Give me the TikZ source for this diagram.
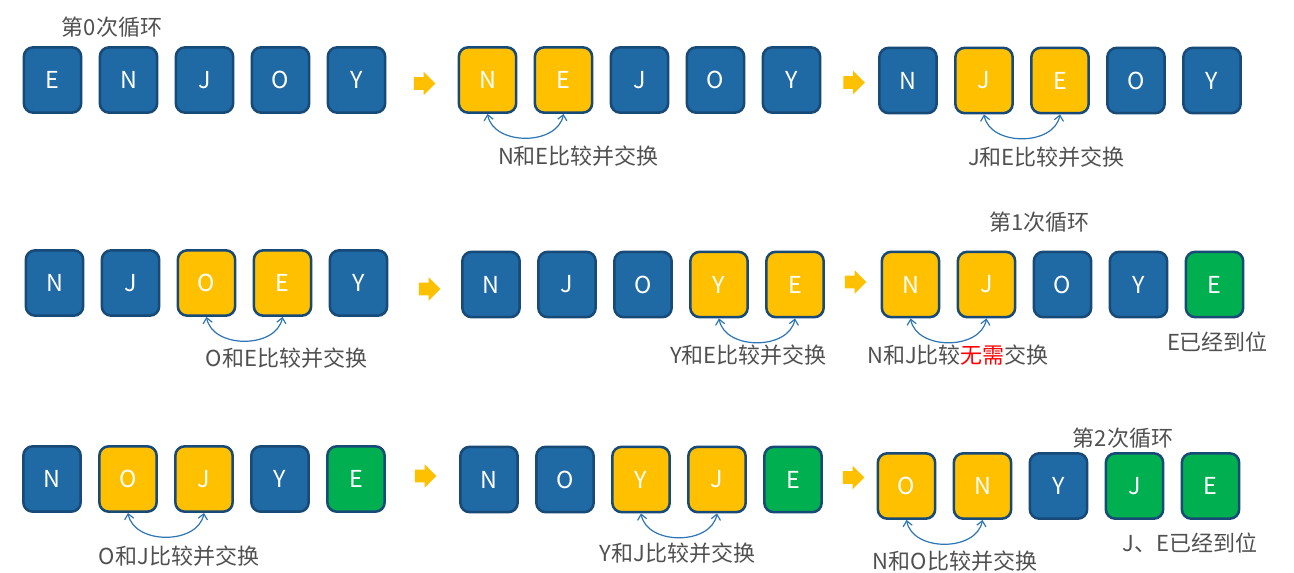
\documentclass[tikz,border=0pt]{standalone}
\usepackage{fontspec}
\setmainfont{Noto Sans CJK SC}
\usetikzlibrary{arrows.meta,shapes.arrows}
\definecolor{cellblue}{RGB}{31,105,165}
\definecolor{celledge}{RGB}{24,74,120}
\definecolor{cellgold}{RGB}{255,192,0}
\definecolor{cellgreen}{RGB}{0,176,80}
\definecolor{arcblue}{RGB}{46,117,182}
\definecolor{notegray}{RGB}{80,80,80}
\definecolor{notered}{RGB}{255,0,0}
\tikzset{cell/.style={draw=celledge,line width=1.9pt,rounded corners=7pt,
      minimum width=43pt,minimum height=49pt,inner sep=0pt,
      text=white,font=\fontsize{17.5}{17.5}\selectfont},
    goarrow/.style={single arrow,fill=cellgold,draw=none,inner sep=4.5pt,
      minimum width=17pt,minimum height=16pt,single arrow head extend=4pt},
    swaparc/.style={draw=arcblue,line width=0.9pt,
      {Straight Barb[length=4pt,width=7pt]}-{Straight Barb[length=4pt,width=7pt]}},
    note/.style={text=notegray,font=\fontsize{16.5}{16.5}\selectfont,inner sep=0pt},
    }

\begin{document}
\begin{tikzpicture}[x=0.75pt,y=-0.75pt]
	\useasboundingbox (0,0) rectangle (1294,573);
	% first row
	\foreach \ch/\fc [count=\i] in {E/cellblue,N/cellblue,J/cellblue,O/cellblue,Y/cellblue}
		\node[cell,fill=\fc] (r1a\i) at ({52.5+76*(\i-1)},80) {\ch};
	\foreach \ch/\fc [count=\i] in {N/cellgold,E/cellgold,J/cellblue,O/cellblue,Y/cellblue}
		\node[cell,fill=\fc] (r1b\i) at ({487.5+76*(\i-1)},80) {\ch};
	\foreach \ch/\fc [count=\i] in {N/cellblue,J/cellgold,E/cellgold,O/cellblue,Y/cellblue}
		\node[cell,fill=\fc] (r1c\i) at ({908+76*(\i-1)},80.5) {\ch};
	\node[goarrow] (r1ab) at (421.5,83.5) {};
	\node[goarrow] (r1bc) at (851,82.5) {};
	\draw[swaparc] (r1b1.south) .. controls +(6,32) and +(-6,32) .. (r1b2.south);
	\draw[swaparc] (r1c2.south) .. controls +(6,32) and +(-6,32) .. (r1c3.south);
	\node[note] (loop0) at (112,27) {第0次循环};
	\node[note] (swap1b) at (578.5,156) {N和E比较并交换};
	\node[note] (swap1c) at (1046.5,157) {J和E比较并交换};
	% second row
	\foreach \ch/\fc [count=\i] in {N/cellblue,J/cellblue,O/cellgold,E/cellgold,Y/cellblue}
		\node[cell,fill=\fc] (r2a\i) at ({54.5+76*(\i-1)},283) {\ch};
	\foreach \ch/\fc [count=\i] in {N/cellblue,J/cellblue,O/cellblue,Y/cellgold,E/cellgold}
		\node[cell,fill=\fc] (r2b\i) at ({491+76*(\i-1)},284.5) {\ch};
	\foreach \ch/\fc [count=\i] in {N/cellgold,J/cellgold,O/cellblue,Y/cellblue,E/cellgreen}
		\node[cell,fill=\fc] (r2c\i) at ({910.5+76*(\i-1)},284.5) {\ch};
	\node[goarrow] (r2ab) at (426.5,289) {};
	\node[goarrow] (r2bc) at (852.5,282) {};
	\draw[swaparc] (r2a3.south) .. controls +(6,32) and +(-6,32) .. (r2a4.south);
	\draw[swaparc] (r2b4.south) .. controls +(6,32) and +(-6,32) .. (r2b5.south);
	\draw[swaparc] (r2c1.south) .. controls +(6,32) and +(-6,32) .. (r2c2.south);
	\node[note] (loop1) at (1039.5,222) {第1次循环};
	\node[note] (swap2a) at (286.5,358) {O和E比较并交换};
	\node[note] (swap2b) at (748.5,355.5) {Y和E比较并交换};
	\node[note] (swap2c) at (958,355) {N和J比较\textcolor{notered}{无需}交换};
	\node[note] (done1) at (1217.5,342) {E已经到位};
	% third row
	\foreach \ch/\fc [count=\i] in {N/cellblue,O/cellgold,J/cellgold,Y/cellblue,E/cellgreen}
		\node[cell,fill=\fc] (r3a\i) at ({52+76*(\i-1)},479) {\ch};
	\foreach \ch/\fc [count=\i] in {N/cellblue,O/cellblue,Y/cellgold,J/cellgold,E/cellgreen}
		\node[cell,fill=\fc] (r3b\i) at ({489+76*(\i-1)},479.5) {\ch};
	\foreach \ch/\fc [count=\i] in {O/cellgold,N/cellgold,Y/cellblue,J/cellgreen,E/cellgreen}
		\node[cell,fill=\fc] (r3c\i) at ({906.5+76*(\i-1)},486) {\ch};
	\node[goarrow] (r3ab) at (422.5,476) {};
	\node[goarrow] (r3bc) at (850.5,477.5) {};
	\draw[swaparc] (r3a2.south) .. controls +(6,32) and +(-6,32) .. (r3a3.south);
	\draw[swaparc] (r3b3.south) .. controls +(6,32) and +(-6,32) .. (r3b4.south);
	\draw[swaparc] (r3c1.south) .. controls +(6,32) and +(-6,32) .. (r3c2.south);
	\node[note] (loop2) at (1123,438) {第2次循环};
	\node[note] (swap3a) at (179,556) {O和J比较并交换};
	\node[note] (swap3b) at (677.5,553) {Y和J比较并交换};
	\node[note] (swap3c) at (955,561) {N和O比较并交换};
	\node[note] (done2) at (1190,543) {J、E已经到位};
\end{tikzpicture}
\end{document}
